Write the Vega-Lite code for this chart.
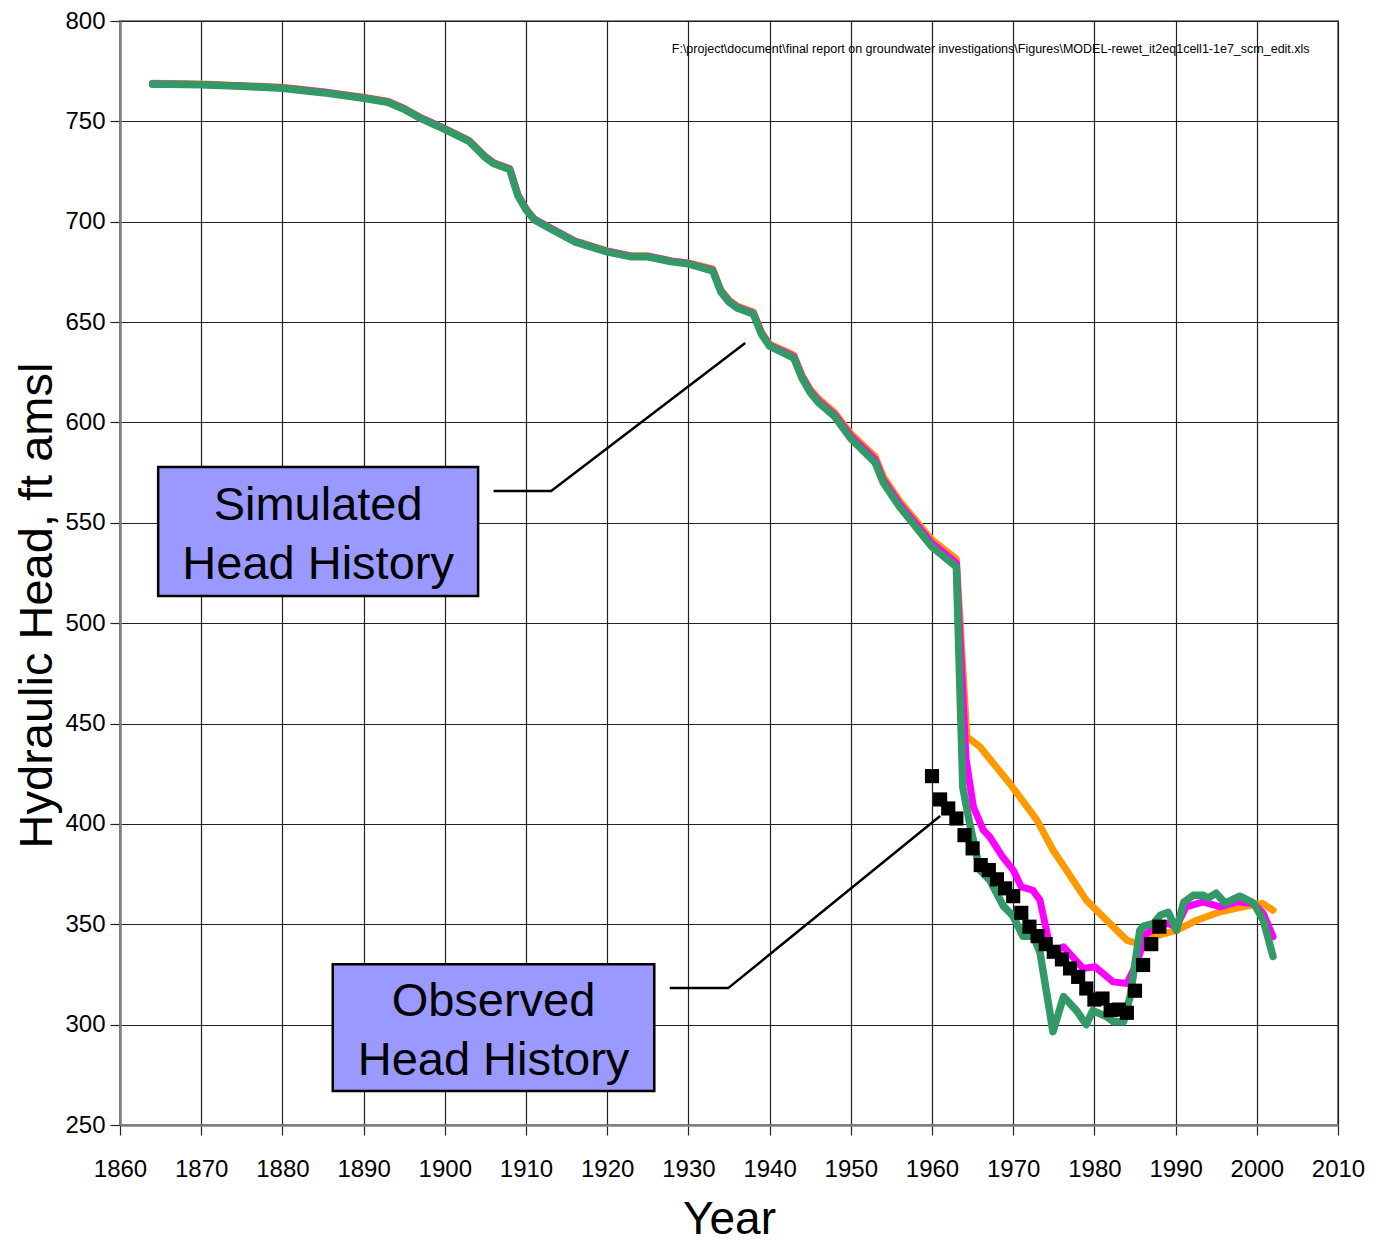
{
  "$schema": "https://vega.github.io/schema/vega-lite/v6.json",
  "width": 1218,
  "height": 1104,
  "autosize": {"type": "none"},
  "padding": {"left": 120, "top": 21, "right": 38, "bottom": 122},
  "background": "white",
  "config": {
    "view": {"stroke": "#808080", "strokeWidth": 2},
    "font": "Liberation Sans"
  },
  "datasets": {
    "sim": [
      {"run": "orange", "year": 1864, "head": 769}, {"run": "orange", "year": 1870, "head": 768.6}, {"run": "orange", "year": 1880, "head": 767}, {"run": "orange", "year": 1885, "head": 764.8}, {"run": "orange", "year": 1890, "head": 762}, {"run": "orange", "year": 1893, "head": 760}, {"run": "orange", "year": 1895, "head": 756.5}, {"run": "orange", "year": 1897, "head": 752}, {"run": "orange", "year": 1900, "head": 746.5}, {"run": "orange", "year": 1903, "head": 740.5}, {"run": "orange", "year": 1905, "head": 732.5}, {"run": "orange", "year": 1906, "head": 729.5}, {"run": "orange", "year": 1908, "head": 726.5}, {"run": "orange", "year": 1909, "head": 713.5}, {"run": "orange", "year": 1910, "head": 706.5}, {"run": "orange", "year": 1911, "head": 701.5}, {"run": "orange", "year": 1913, "head": 697}, {"run": "orange", "year": 1916, "head": 690.5}, {"run": "orange", "year": 1920, "head": 685.5}, {"run": "orange", "year": 1923, "head": 683}, {"run": "orange", "year": 1925, "head": 683}, {"run": "orange", "year": 1928, "head": 680.5}, {"run": "orange", "year": 1930, "head": 679.5}, {"run": "orange", "year": 1933, "head": 676.5}, {"run": "orange", "year": 1934, "head": 666}, {"run": "orange", "year": 1935, "head": 661}, {"run": "orange", "year": 1936, "head": 658}, {"run": "orange", "year": 1938, "head": 655}, {"run": "orange", "year": 1939, "head": 645}, {"run": "orange", "year": 1940, "head": 639}, {"run": "orange", "year": 1942, "head": 635.5}, {"run": "orange", "year": 1943, "head": 633.5}, {"run": "orange", "year": 1944, "head": 623.5}, {"run": "orange", "year": 1945, "head": 616.5}, {"run": "orange", "year": 1946, "head": 612}, {"run": "orange", "year": 1948, "head": 605}, {"run": "orange", "year": 1950, "head": 594.5}, {"run": "orange", "year": 1953, "head": 583}, {"run": "orange", "year": 1954, "head": 573}, {"run": "orange", "year": 1956, "head": 561}, {"run": "orange", "year": 1960, "head": 541.5}, {"run": "orange", "year": 1963, "head": 532}, {"run": "orange", "year": 1964.3, "head": 443.4}, {"run": "orange", "year": 1965.9, "head": 438.4}, {"run": "orange", "year": 1969.6, "head": 420}, {"run": "orange", "year": 1972.9, "head": 402}, {"run": "orange", "year": 1974.9, "head": 387}, {"run": "orange", "year": 1979, "head": 362}, {"run": "orange", "year": 1981.5, "head": 352}, {"run": "orange", "year": 1984, "head": 342}, {"run": "orange", "year": 1985.2, "head": 340.6}, {"run": "orange", "year": 1987.2, "head": 343.8}, {"run": "orange", "year": 1990.1, "head": 347}, {"run": "orange", "year": 1992.6, "head": 352}, {"run": "orange", "year": 1995.5, "head": 356.2}, {"run": "orange", "year": 1998.3, "head": 358.7}, {"run": "orange", "year": 2000.7, "head": 360.4}, {"run": "orange", "year": 2002, "head": 357},

      {"run": "magenta", "year": 1864, "head": 768.8}, {"run": "magenta", "year": 1870, "head": 768.4}, {"run": "magenta", "year": 1880, "head": 766.8}, {"run": "magenta", "year": 1885, "head": 764.6}, {"run": "magenta", "year": 1890, "head": 761.8}, {"run": "magenta", "year": 1893, "head": 759.8}, {"run": "magenta", "year": 1895, "head": 756.3}, {"run": "magenta", "year": 1897, "head": 751.8}, {"run": "magenta", "year": 1900, "head": 746.3}, {"run": "magenta", "year": 1903, "head": 740.3}, {"run": "magenta", "year": 1905, "head": 732.3}, {"run": "magenta", "year": 1906, "head": 729.3}, {"run": "magenta", "year": 1908, "head": 726.3}, {"run": "magenta", "year": 1909, "head": 713.3}, {"run": "magenta", "year": 1910, "head": 706.3}, {"run": "magenta", "year": 1911, "head": 701.3}, {"run": "magenta", "year": 1913, "head": 696.8}, {"run": "magenta", "year": 1916, "head": 690.3}, {"run": "magenta", "year": 1920, "head": 685.3}, {"run": "magenta", "year": 1923, "head": 682.8}, {"run": "magenta", "year": 1925, "head": 682.8}, {"run": "magenta", "year": 1928, "head": 680.3}, {"run": "magenta", "year": 1930, "head": 679.3}, {"run": "magenta", "year": 1933, "head": 676}, {"run": "magenta", "year": 1934, "head": 665.5}, {"run": "magenta", "year": 1935, "head": 660.5}, {"run": "magenta", "year": 1936, "head": 657.5}, {"run": "magenta", "year": 1938, "head": 654.5}, {"run": "magenta", "year": 1939, "head": 644.5}, {"run": "magenta", "year": 1940, "head": 638.5}, {"run": "magenta", "year": 1942, "head": 634.8}, {"run": "magenta", "year": 1943, "head": 632.8}, {"run": "magenta", "year": 1944, "head": 622.8}, {"run": "magenta", "year": 1945, "head": 615.8}, {"run": "magenta", "year": 1946, "head": 611}, {"run": "magenta", "year": 1948, "head": 604}, {"run": "magenta", "year": 1950, "head": 593.3}, {"run": "magenta", "year": 1953, "head": 581.5}, {"run": "magenta", "year": 1954, "head": 571.5}, {"run": "magenta", "year": 1956, "head": 559.5}, {"run": "magenta", "year": 1960, "head": 539.8}, {"run": "magenta", "year": 1963, "head": 530}, {"run": "magenta", "year": 1964.2, "head": 432}, {"run": "magenta", "year": 1965.1, "head": 408.5}, {"run": "magenta", "year": 1966.3, "head": 397}, {"run": "magenta", "year": 1967.1, "head": 393.6}, {"run": "magenta", "year": 1968.7, "head": 383.6}, {"run": "magenta", "year": 1970, "head": 377}, {"run": "magenta", "year": 1971, "head": 368.6}, {"run": "magenta", "year": 1972.4, "head": 367}, {"run": "magenta", "year": 1973.3, "head": 362}, {"run": "magenta", "year": 1974.7, "head": 335.5}, {"run": "magenta", "year": 1976.2, "head": 338.8}, {"run": "magenta", "year": 1978.6, "head": 328}, {"run": "magenta", "year": 1980.1, "head": 328.8}, {"run": "magenta", "year": 1982.3, "head": 321.3}, {"run": "magenta", "year": 1984, "head": 320.5}, {"run": "magenta", "year": 1985.2, "head": 330.5}, {"run": "magenta", "year": 1986.4, "head": 345.5}, {"run": "magenta", "year": 1988.9, "head": 350.5}, {"run": "magenta", "year": 1990.1, "head": 348.8}, {"run": "magenta", "year": 1991.3, "head": 358.7}, {"run": "magenta", "year": 1993.4, "head": 361.2}, {"run": "magenta", "year": 1995.5, "head": 358.7}, {"run": "magenta", "year": 1997.5, "head": 361.2}, {"run": "magenta", "year": 1999.6, "head": 360.4}, {"run": "magenta", "year": 2000.8, "head": 355.4}, {"run": "magenta", "year": 2002, "head": 343.8},

      {"run": "green", "year": 1864, "head": 768.5}, {"run": "green", "year": 1866, "head": 768.5}, {"run": "green", "year": 1870, "head": 768.2}, {"run": "green", "year": 1875, "head": 767.5}, {"run": "green", "year": 1880, "head": 766.5}, {"run": "green", "year": 1885, "head": 764.3}, {"run": "green", "year": 1890, "head": 761.5}, {"run": "green", "year": 1893, "head": 759.5}, {"run": "green", "year": 1895, "head": 756}, {"run": "green", "year": 1897, "head": 751.5}, {"run": "green", "year": 1900, "head": 746}, {"run": "green", "year": 1903, "head": 740}, {"run": "green", "year": 1905, "head": 732}, {"run": "green", "year": 1906, "head": 729}, {"run": "green", "year": 1908, "head": 726}, {"run": "green", "year": 1909, "head": 713}, {"run": "green", "year": 1910, "head": 706}, {"run": "green", "year": 1911, "head": 701}, {"run": "green", "year": 1913, "head": 696.5}, {"run": "green", "year": 1916, "head": 690}, {"run": "green", "year": 1920, "head": 685}, {"run": "green", "year": 1923, "head": 682.5}, {"run": "green", "year": 1925, "head": 682.5}, {"run": "green", "year": 1928, "head": 680}, {"run": "green", "year": 1930, "head": 679}, {"run": "green", "year": 1933, "head": 675.5}, {"run": "green", "year": 1934, "head": 665}, {"run": "green", "year": 1935, "head": 660}, {"run": "green", "year": 1936, "head": 657}, {"run": "green", "year": 1938, "head": 654}, {"run": "green", "year": 1939, "head": 644}, {"run": "green", "year": 1940, "head": 638}, {"run": "green", "year": 1942, "head": 634}, {"run": "green", "year": 1943, "head": 632}, {"run": "green", "year": 1944, "head": 622}, {"run": "green", "year": 1945, "head": 615}, {"run": "green", "year": 1946, "head": 610}, {"run": "green", "year": 1948, "head": 603}, {"run": "green", "year": 1950, "head": 592}, {"run": "green", "year": 1953, "head": 580}, {"run": "green", "year": 1954, "head": 570}, {"run": "green", "year": 1956, "head": 558}, {"run": "green", "year": 1960, "head": 538}, {"run": "green", "year": 1963, "head": 528}, {"run": "green", "year": 1963.8, "head": 418}, {"run": "green", "year": 1964.7, "head": 399}, {"run": "green", "year": 1965.9, "head": 377}, {"run": "green", "year": 1967.1, "head": 372}, {"run": "green", "year": 1968.8, "head": 359}, {"run": "green", "year": 1970, "head": 354}, {"run": "green", "year": 1971.2, "head": 344}, {"run": "green", "year": 1972.5, "head": 344}, {"run": "green", "year": 1973.3, "head": 336}, {"run": "green", "year": 1974.9, "head": 296.5}, {"run": "green", "year": 1976.2, "head": 314}, {"run": "green", "year": 1977.8, "head": 307}, {"run": "green", "year": 1979, "head": 300}, {"run": "green", "year": 1979.8, "head": 307}, {"run": "green", "year": 1981.5, "head": 304}, {"run": "green", "year": 1982.3, "head": 301.5}, {"run": "green", "year": 1983.6, "head": 301.5}, {"run": "green", "year": 1984.4, "head": 314}, {"run": "green", "year": 1985.6, "head": 347}, {"run": "green", "year": 1986, "head": 349}, {"run": "green", "year": 1987.3, "head": 350.5}, {"run": "green", "year": 1988.1, "head": 354.5}, {"run": "green", "year": 1989.1, "head": 356}, {"run": "green", "year": 1990.1, "head": 347}, {"run": "green", "year": 1991, "head": 361}, {"run": "green", "year": 1992.2, "head": 364.5}, {"run": "green", "year": 1993.4, "head": 364.5}, {"run": "green", "year": 1994, "head": 363}, {"run": "green", "year": 1995, "head": 365.5}, {"run": "green", "year": 1996.1, "head": 360.5}, {"run": "green", "year": 1997.9, "head": 364}, {"run": "green", "year": 1999.6, "head": 360.5}, {"run": "green", "year": 2000.8, "head": 352}, {"run": "green", "year": 2002, "head": 334}
    ],
    "obs": [
      {"year": 1960, "head": 423.8}, {"year": 1961, "head": 412.2}, {"year": 1962, "head": 407.7}, {"year": 1963, "head": 402.7}, {"year": 1964, "head": 394.4}, {"year": 1965, "head": 387.8}, {"year": 1966, "head": 379.5}, {"year": 1967, "head": 377}, {"year": 1968, "head": 372.4}, {"year": 1969, "head": 367.9}, {"year": 1970, "head": 364}, {"year": 1971, "head": 355.7}, {"year": 1972, "head": 348.8}, {"year": 1973, "head": 344.1}, {"year": 1974, "head": 340.1}, {"year": 1975, "head": 336.3}, {"year": 1976, "head": 332.5}, {"year": 1977, "head": 328}, {"year": 1978, "head": 323.8}, {"year": 1979, "head": 318}, {"year": 1980, "head": 312.5}, {"year": 1981, "head": 313}, {"year": 1982, "head": 307.2}, {"year": 1983, "head": 307.5}, {"year": 1984, "head": 305.9}, {"year": 1985, "head": 316.9}, {"year": 1986, "head": 329.7}, {"year": 1987, "head": 340.1}, {"year": 1988, "head": 348.8}
    ],
    "boxes": [
      {"label": "Simulated\nHead History", "x1": 1864.7, "x2": 1904.1, "y1": 577.8, "y2": 513.5, "xc": 1884.4, "yc": 545.6},
      {"label": "Observed\nHead History", "x1": 1886.2, "x2": 1925.8, "y1": 330.1, "y2": 266.9, "xc": 1906.0, "yc": 298.5}
    ],
    "leaders": [
      {"which": "sim", "ord": 1, "year": 1906.0, "head": 565.8}, {"which": "sim", "ord": 2, "year": 1913.1, "head": 565.8}, {"which": "sim", "ord": 3, "year": 1937.0, "head": 639.6},
      {"which": "obs", "ord": 1, "year": 1927.7, "head": 318.2}, {"which": "obs", "ord": 2, "year": 1934.9, "head": 318.2}, {"which": "obs", "ord": 3, "year": 1961.0, "head": 403.9}
    ],
    "note": [
      {"year": 2006.5, "head": 786, "text": "F:\\project\\document\\final report on groundwater investigations\\Figures\\MODEL-rewet_it2eq1cell1-1e7_scm_edit.xls"}
    ]
  },
  "layer": [
    {
      "data": {"name": "sim"},
      "transform": [{"filter": "datum.run === 'orange'"}],
      "mark": {"type": "line", "color": "#FF9900", "strokeWidth": 7, "strokeJoin": "round", "strokeCap": "round"},
      "encoding": {
        "x": {"field": "year", "type": "quantitative", "scale": {"domain": [1860, 2010], "nice": false, "zero": false},
          "axis": {"values": [1860, 1870, 1880, 1890, 1900, 1910, 1920, 1930, 1940, 1950, 1960, 1970, 1980, 1990, 2000, 2010], "format": "d", "title": "Year",
            "grid": true, "gridColor": "#222222", "gridWidth": 1.2, "domainColor": "#808080", "domainWidth": 2.5,
            "tickColor": "#222222", "tickSize": 10, "tickWidth": 1.2,
            "labelFont": "Liberation Sans", "labelFontSize": 24, "labelColor": "black", "labelPadding": 22, "labelFlush": false,
            "titleFont": "Liberation Sans", "titleFontSize": 46, "titleFontWeight": "normal", "titleColor": "black", "titlePadding": 16}},
        "y": {"field": "head", "type": "quantitative", "scale": {"domain": [250, 800], "nice": false, "zero": false},
          "axis": {"values": [250, 300, 350, 400, 450, 500, 550, 600, 650, 700, 750, 800], "title": "Hydraulic Head, ft amsl",
            "grid": true, "gridColor": "#222222", "gridWidth": 1.2, "domainColor": "#808080", "domainWidth": 2.5,
            "tickColor": "#222222", "tickSize": 10, "tickWidth": 1.2,
            "labelFont": "Liberation Sans", "labelFontSize": 24, "labelColor": "black", "labelPadding": 5, "labelFlush": false,
            "titleFont": "Liberation Sans", "titleFontSize": 47, "titleFontWeight": "normal", "titleColor": "black",
            "titleAngle": -90, "titleAlign": "center", "titleBaseline": "middle", "titleX": -83, "titleY": 584}}
      }
    },
    {
      "data": {"name": "sim"},
      "transform": [{"filter": "datum.run === 'magenta'"}],
      "mark": {"type": "line", "color": "#FF00FF", "strokeWidth": 7, "strokeJoin": "round", "strokeCap": "round"},
      "encoding": {"x": {"field": "year", "type": "quantitative"}, "y": {"field": "head", "type": "quantitative"}}
    },
    {
      "data": {"name": "sim"},
      "transform": [{"filter": "datum.run === 'green'"}],
      "mark": {"type": "line", "color": "#339966", "strokeWidth": 7.5, "strokeJoin": "round", "strokeCap": "round"},
      "encoding": {"x": {"field": "year", "type": "quantitative"}, "y": {"field": "head", "type": "quantitative"}}
    },
    {
      "data": {"name": "obs"},
      "mark": {"type": "point", "shape": "square", "filled": true, "color": "black", "opacity": 1, "size": 200},
      "encoding": {"x": {"field": "year", "type": "quantitative"}, "y": {"field": "head", "type": "quantitative"}}
    },
    {
      "data": {"name": "leaders"},
      "mark": {"type": "line", "color": "black", "strokeWidth": 2.5},
      "encoding": {"x": {"field": "year", "type": "quantitative"}, "y": {"field": "head", "type": "quantitative"}, "detail": {"field": "which"}, "order": {"field": "ord"}}
    },
    {
      "data": {"name": "boxes"},
      "mark": {"type": "rect", "fill": "#9999FF", "stroke": "black", "strokeWidth": 2.5},
      "encoding": {
        "x": {"field": "x1", "type": "quantitative"}, "x2": {"field": "x2"},
        "y": {"field": "y1", "type": "quantitative"}, "y2": {"field": "y2"}
      }
    },
    {
      "data": {"name": "boxes"},
      "mark": {"type": "text", "font": "Liberation Sans", "fontSize": 47, "color": "black", "align": "center", "baseline": "middle", "lineBreak": "\n", "lineHeight": 59, "dy": -26},
      "encoding": {
        "x": {"field": "xc", "type": "quantitative"},
        "y": {"field": "yc", "type": "quantitative"},
        "text": {"field": "label"}
      }
    },
    {
      "data": {"name": "note"},
      "mark": {"type": "text", "font": "Liberation Sans", "fontSize": 12.5, "color": "black", "align": "right", "baseline": "middle"},
      "encoding": {
        "x": {"field": "year", "type": "quantitative"},
        "y": {"field": "head", "type": "quantitative"},
        "text": {"field": "text"}
      }
    }
  ]
}
